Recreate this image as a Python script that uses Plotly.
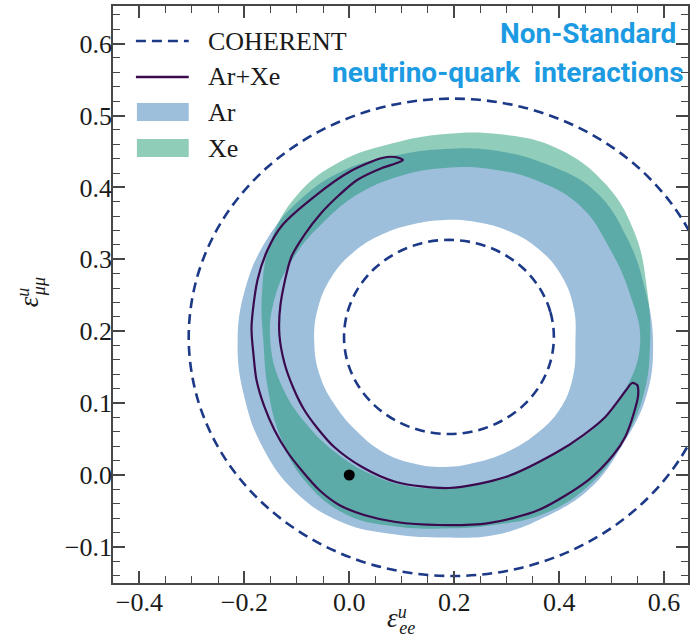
import plotly.graph_objects as go

# ---------------- data ----------------
# Ar 90% CL region: outer boundary and inner (hole) boundary
ar_outer_x = [0.5791, 0.5637, 0.5292, 0.4696, 0.3778, 0.2800, 0.1822, 0.0868, -0.0078, -0.0918,
              -0.1575, -0.1985, -0.2129, -0.2000, -0.1641, -0.1018, -0.0144, 0.0848, 0.1822,
              0.2797, 0.3730, 0.4585, 0.5198, 0.5656]
ar_outer_y = [0.1836, 0.2585, 0.3303, 0.3941, 0.4317, 0.4509, 0.4534, 0.4442, 0.4245, 0.3842,
              0.3272, 0.2583, 0.1836, 0.1086, 0.0372, -0.0243, -0.0657, -0.0824, -0.0869,
              -0.0831, -0.0585, -0.0188, 0.0408, 0.1084]
ar_inner_x = [0.4310, 0.4280, 0.4042, 0.3608, 0.3047, 0.2436, 0.1822, 0.1217, 0.0630, 0.0089,
              -0.0341, -0.0600, -0.0667, -0.0554, -0.0259, 0.0143, 0.0630, 0.1210, 0.1822,
              0.2429, 0.3013, 0.3554, 0.4009, 0.4262]
ar_inner_y = [0.1836, 0.2318, 0.2775, 0.3144, 0.3390, 0.3515, 0.3547, 0.3488, 0.3348, 0.3105,
              0.2750, 0.2311, 0.1836, 0.1370, 0.0956, 0.0607, 0.0324, 0.0163, 0.0111,
              0.0177, 0.0324, 0.0567, 0.0911, 0.1357]

# Xe 90% CL region: outer boundary and inner (hole) boundary
xe_outer_x = [0.5734, 0.5674, 0.5440, 0.4863, 0.3958, 0.2883, 0.1822, 0.0807, -0.0168, -0.0992,
              -0.1501, -0.1664, -0.1635, -0.1545, -0.1304, -0.0824, -0.0059, 0.0888, 0.1822,
              0.2748, 0.3697, 0.4548, 0.5177, 0.5601]
xe_outer_y = [0.1836, 0.2592, 0.3366, 0.4063, 0.4546, 0.4738, 0.4743, 0.4610, 0.4359, 0.3896,
              0.3241, 0.2520, 0.1836, 0.1175, 0.0515, -0.0102, -0.0549, -0.0717, -0.0744,
              -0.0696, -0.0543, -0.0160, 0.0417, 0.1094]
xe_inner_x = [0.5544, 0.5344, 0.4955, 0.4414, 0.3597, 0.2706, 0.1822, 0.0971, 0.0183, -0.0482,
              -0.1041, -0.1417, -0.1502, -0.1279, -0.0827, -0.0260, 0.0388, 0.1094, 0.1822,
              0.2537, 0.3222, 0.3917, 0.4651, 0.5243]
xe_inner_y = [0.1836, 0.2527, 0.3161, 0.3734, 0.4088, 0.4254, 0.4270, 0.4160, 0.3914, 0.3522,
              0.3046, 0.2471, 0.1836, 0.1228, 0.0716, 0.0312, 0.0017, -0.0152, -0.0181,
              -0.0119, 0.0059, 0.0302, 0.0640, 0.1165]

# Ar+Xe combined contour (closed crescent)
arxe_x = [0.1024, 0.0872, 0.0625, -0.0002, -0.0629, -0.1274, -0.1559, -0.1749, -0.1863,
          -0.1825, -0.1768, -0.1616, -0.1426, -0.1179, -0.0914, -0.0572, -0.0192, 0.0283,
          0.0891, 0.1708, 0.2657, 0.3607, 0.4556, 0.5031, 0.5259, 0.5430, 0.5506, 0.5487,
          0.5392, 0.5278, 0.4879, 0.4462, 0.3930, 0.2980, 0.1897, 0.0891, 0.0245, -0.0287,
          -0.0610, -0.0857, -0.1066, -0.1236, -0.1331, -0.1312, -0.1104, -0.0857, -0.0534,
          -0.0192, 0.0150, 0.0625, 0.0910, 0.1024]
arxe_y = [0.4381, 0.4423, 0.4409, 0.4214, 0.3894, 0.3477, 0.3129, 0.2712, 0.2058,
          0.1669, 0.1321, 0.0946, 0.0626, 0.0320, 0.0070, -0.0209, -0.0417, -0.0556,
          -0.0654, -0.0695, -0.0668, -0.0487, -0.0070, 0.0278, 0.0529, 0.0876, 0.1113, 0.1252,
          0.1280, 0.1182, 0.0807, 0.0556, 0.0306, -0.0028, -0.0181, -0.0097, 0.0111, 0.0389,
          0.0654, 0.0904, 0.1210, 0.1558, 0.1947, 0.2364, 0.3032, 0.3338, 0.3644,
          0.3894, 0.4103, 0.4270, 0.4339, 0.4381]

# COHERENT allowed-region boundaries (dashed)
coh_outer_x = [0.700, 0.683, 0.633, 0.553, 0.4485, 0.327, 0.197, 0.067, -0.0545, -0.159,
               -0.239, -0.289, -0.306, -0.289, -0.239, -0.159, -0.0545, 0.067, 0.197, 0.327,
               0.4485, 0.553, 0.633, 0.683, 0.700]
coh_outer_y = [0.1915, 0.2775, 0.3575, 0.4262, 0.479, 0.5122, 0.5235, 0.5122, 0.479, 0.4262,
               0.3575, 0.2775, 0.1915, 0.1055, 0.0255, -0.0432, -0.096, -0.1292, -0.1405,
               -0.1292, -0.096, -0.0432, 0.0255, 0.1055, 0.1915]
coh_inner_x = [0.39, 0.3832, 0.3632, 0.3314, 0.29, 0.2418, 0.19, 0.1382, 0.09, 0.0486,
               0.0168, -0.0032, -0.01, -0.0032, 0.0168, 0.0486, 0.09, 0.1382, 0.19, 0.2418,
               0.29, 0.3314, 0.3632, 0.3832, 0.39]
coh_inner_y = [0.192, 0.227, 0.2595, 0.2875, 0.3089, 0.3224, 0.327, 0.3224, 0.3089, 0.2875,
               0.2595, 0.227, 0.192, 0.157, 0.1245, 0.0965, 0.0751, 0.0616, 0.057, 0.0616,
               0.0751, 0.0965, 0.1245, 0.157, 0.192]

# Standard Model point
sm_x = [0.0]
sm_y = [0.0]

legend_labels = ["COHERENT", "Ar+Xe", "Ar", "Xe"]
title_lines = ["Non-Standard", "neutrino-quark\u00a0 interactions"]

# ---------------- styling ----------------
W, H = 692, 638
ML, MR, MT, MB = 113, 2, 6, 55
X_RANGE = [-0.4503, 0.6456]
Y_RANGE = [-0.1502, 0.6523]

AR_COLOR = "#9dbfdc"
XE_FILL = "rgba(22,150,110,0.48)"
XE_LEGEND = "#8fcdb9"
COH_COLOR = "#1c3987"
ARXE_COLOR = "#3b0a4e"
TITLE_COLOR = "#1d9be2"
AXIS_COLOR = "#474747"
SERIF = "Liberation Serif, DejaVu Serif, serif"
TXT = "#1a1a1a"

PW = W - ML - MR
PH = H - MT - MB


def pxx(px):
    return (px - ML) / PW


def pxy(py):
    return (H - MB - py) / PH


def ring(ox, oy, ix, iy):
    x = list(ox) + [ox[0], None] + list(ix[::-1]) + [ix[-1]]
    y = list(oy) + [oy[0], None] + list(iy[::-1]) + [iy[-1]]
    return x, y


fig = go.Figure()

rx, ry = ring(ar_outer_x, ar_outer_y, ar_inner_x, ar_inner_y)
fig.add_trace(go.Scatter(x=rx, y=ry, mode="lines", fill="toself", fillcolor=AR_COLOR,
                         line=dict(width=0, shape="spline", smoothing=1.2, color=AR_COLOR),
                         name="Ar", hoverinfo="skip", showlegend=False))
xx, xy = ring(xe_outer_x, xe_outer_y, xe_inner_x, xe_inner_y)
fig.add_trace(go.Scatter(x=xx, y=xy, mode="lines", fill="toself", fillcolor=XE_FILL,
                         line=dict(width=0, shape="spline", smoothing=1.2, color=XE_FILL),
                         name="Xe", hoverinfo="skip", showlegend=False))

for cx, cy in [(coh_outer_x, coh_outer_y), (coh_inner_x, coh_inner_y)]:
    fig.add_trace(go.Scatter(x=cx, y=cy, mode="lines",
                             line=dict(color=COH_COLOR, width=2.6, dash="10px,6px",
                                       shape="spline", smoothing=1),
                             name="COHERENT", hoverinfo="skip", showlegend=False))

fig.add_trace(go.Scatter(x=arxe_x, y=arxe_y, mode="lines",
                         line=dict(color=ARXE_COLOR, width=2.2, shape="spline", smoothing=0.8),
                         name="Ar+Xe", hoverinfo="skip", showlegend=False))

fig.add_trace(go.Scatter(x=sm_x, y=sm_y, mode="markers",
                         marker=dict(color="black", size=11), name="SM",
                         hoverinfo="skip", showlegend=False))

# ---- manual legend ----
shapes = []
annotations = []
rows_py = [41, 77, 112, 148]
shapes.append(dict(type="line", xref="paper", yref="paper", x0=pxx(136), x1=pxx(189),
                   y0=pxy(rows_py[0]), y1=pxy(rows_py[0]),
                   line=dict(color=COH_COLOR, width=2.6, dash="10px,6px")))
shapes.append(dict(type="line", xref="paper", yref="paper", x0=pxx(136), x1=pxx(189),
                   y0=pxy(rows_py[1]), y1=pxy(rows_py[1]),
                   line=dict(color=ARXE_COLOR, width=2.4)))
shapes.append(dict(type="rect", xref="paper", yref="paper", x0=pxx(137), x1=pxx(189),
                   y0=pxy(rows_py[2] + 9), y1=pxy(rows_py[2] - 9),
                   fillcolor=AR_COLOR, line=dict(width=0)))
shapes.append(dict(type="rect", xref="paper", yref="paper", x0=pxx(137), x1=pxx(189),
                   y0=pxy(rows_py[3] + 9), y1=pxy(rows_py[3] - 9),
                   fillcolor=XE_LEGEND, line=dict(width=0)))
for lab, py in zip(legend_labels, rows_py):
    annotations.append(dict(text=lab, xref="paper", yref="paper", x=pxx(206), y=pxy(py),
                            xanchor="left", yanchor="middle", showarrow=False,
                            font=dict(family=SERIF, size=26, color=TXT)))

# ---- title text ----
TITLE_FONT = dict(family="Roboto, sans-serif", size=28, color=TITLE_COLOR)
annotations.append(dict(text="<b>%s</b>" % title_lines[0], xref="paper", yref="paper",
                        x=pxx(680), y=pxy(33), xanchor="right", yanchor="middle",
                        showarrow=False, font=TITLE_FONT))
annotations.append(dict(text="<b>%s</b>" % title_lines[1], xref="paper", yref="paper",
                        x=pxx(688), y=pxy(72), xanchor="right", yanchor="middle",
                        showarrow=False, font=TITLE_FONT))

# ---- axis titles (superscript stacked over subscript) ----
SUP = "font-style:italic;font-size:18px;baseline-shift:9px;letter-spacing:-7.5px"
SUB = "font-style:italic;font-size:18px;baseline-shift:-7px"
X_TITLE = ("<span style='font-style:italic'>ε</span>"
           "<span style='%s'>u</span><span style='%s'>ee</span>" % (SUP, SUB))
Y_TITLE = ("<span style='font-style:italic'>ε</span>"
           "<span style='%s'>u</span><span style='%s'>μμ</span>" % (SUP, SUB))
annotations.append(dict(text=X_TITLE, xref="paper", yref="paper", x=pxx(402), y=pxy(620),
                        xanchor="center", yanchor="middle", showarrow=False,
                        font=dict(family=SERIF, size=27, color=TXT)))
annotations.append(dict(text=Y_TITLE, xref="paper", yref="paper", x=pxx(31), y=pxy(292),
                        xanchor="center", yanchor="middle", showarrow=False, textangle=-90,
                        font=dict(family=SERIF, size=27, color=TXT)))

axis_common = dict(showgrid=False, zeroline=False, showline=True, linecolor=AXIS_COLOR,
                   linewidth=1.8, mirror="ticks", ticks="inside", ticklen=12, tickwidth=1.5,
                   tickcolor=AXIS_COLOR, tickformat=".1f",
                   tickfont=dict(family=SERIF, size=26, color=TXT))

fig.update_layout(
    width=W, height=H,
    margin=dict(l=ML, r=MR, t=MT, b=MB, pad=0),
    paper_bgcolor="white", plot_bgcolor="white",
    showlegend=False,
    xaxis=dict(range=X_RANGE, dtick=0.2, tick0=0, ticklabelstandoff=-5,
               minor=dict(dtick=0.05, tick0=0, ticks="inside", ticklen=7, tickwidth=1.3,
                          tickcolor=AXIS_COLOR, showgrid=False),
               **axis_common),
    yaxis=dict(range=Y_RANGE, dtick=0.1, tick0=0, ticklabelstandoff=-6,
               minor=dict(dtick=0.02, tick0=0, ticks="inside", ticklen=7, tickwidth=1.3,
                          tickcolor=AXIS_COLOR, showgrid=False),
               **axis_common),
    shapes=shapes,
    annotations=annotations,
)

fig.write_html("out.html", config={"displayModeBar": False},
               post_script="document.body.style.margin='0';document.body.style.padding='0';")
